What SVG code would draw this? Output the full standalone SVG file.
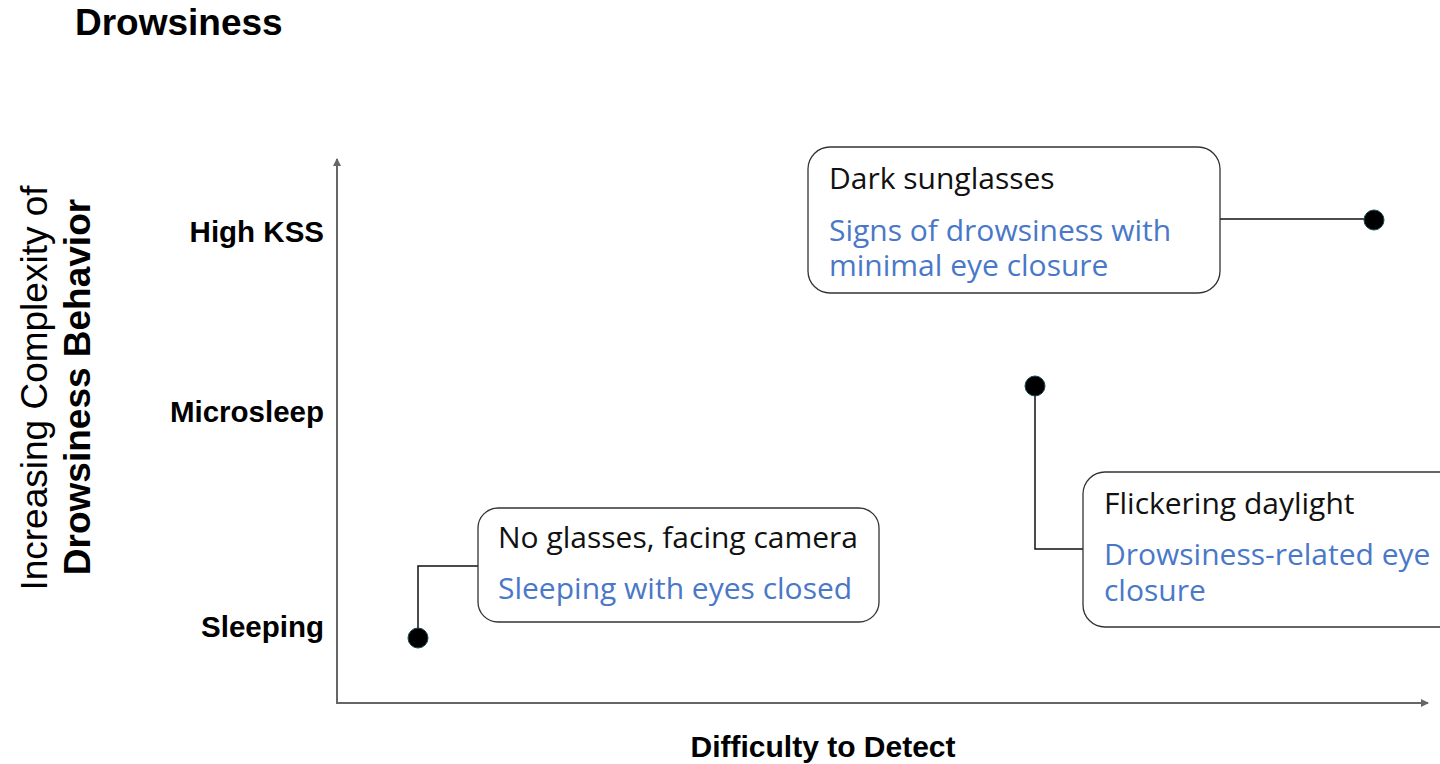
<svg xmlns="http://www.w3.org/2000/svg" width="1440" height="764" viewBox="0 0 1440 764">
  <style>
    .title { font-family: "Liberation Sans", Arial, sans-serif; font-weight: bold; font-size: 37px; fill: #000; }
    .tick { font-family: "Liberation Sans", Arial, sans-serif; font-weight: bold; font-size: 29.5px; fill: #000; text-anchor: end; }
    .axislbl { font-family: "Liberation Sans", Arial, sans-serif; font-size: 37px; fill: #000; text-anchor: middle; }
    .axisb { font-weight: bold; }
    .xlbl { font-family: "Liberation Sans", Arial, sans-serif; font-weight: bold; font-size: 30px; fill: #000; text-anchor: middle; }
    .box { fill: #fff; stroke: #333; stroke-width: 1.3; }
    .head { font-family: "Open Sans", sans-serif; font-size: 30px; fill: #111; }
    .desc { font-family: "Open Sans", sans-serif; font-size: 30px; fill: #4a78c8; }
    .axis { stroke: #666; stroke-width: 2; fill: none; }
    .link { stroke: #111; stroke-width: 1.5; fill: none; }
    .dot { fill: #000; stroke: #1a4a55; stroke-width: 1; }
  </style>
  <defs>
    <marker id="arrow" markerWidth="8" markerHeight="8" refX="7" refY="4" orient="auto" markerUnits="userSpaceOnUse">
      <path d="M0,0 L8,4 L0,8 Z" fill="#666"/>
    </marker>
  </defs>

  <text class="title" x="75" y="35">Drowsiness</text>

  <!-- axes and their labels -->
  <g id="axes">
    <line class="axis" x1="337" y1="703" x2="337" y2="159" marker-end="url(#arrow)"/>
    <line class="axis" x1="336" y1="703" x2="1428" y2="703" marker-end="url(#arrow)"/>
    <text class="tick" x="324" y="242">High KSS</text>
    <text class="tick" x="324" y="422">Microsleep</text>
    <text class="tick" x="324" y="637">Sleeping</text>
    <text class="xlbl" x="823" y="757">Difficulty to Detect</text>
    <text class="axislbl" transform="translate(47,388) rotate(-90)">Increasing Complexity of</text>
    <text class="axislbl axisb" transform="translate(90,387) rotate(-90)">Drowsiness Behavior</text>
  </g>

  <!-- connectors -->
  <g id="connectors">
    <polyline class="link" points="1220,219 1374,219"/>
    <polyline class="link" points="1035,386 1035,549 1083,549"/>
    <polyline class="link" points="478,566 418,566 418,638"/>
  </g>

  <g id="dot-high">
    <circle class="dot" cx="1374" cy="220" r="10"/>
  </g>
  <g id="dot-micro">
    <circle class="dot" cx="1035" cy="386" r="10"/>
  </g>
  <g id="dot-sleep">
    <circle class="dot" cx="418" cy="638" r="10"/>
  </g>

  <g id="node-sunglasses">
    <rect class="box" x="808" y="147" width="412" height="146" rx="22"/>
    <text class="head" x="829" y="189">Dark sunglasses</text>
    <text class="desc" x="829" y="241">Signs of drowsiness with</text>
    <text class="desc" x="829" y="276">minimal eye closure</text>
  </g>

  <g id="node-daylight">
    <rect class="box" x="1083" y="472" width="380" height="155" rx="22"/>
    <text class="head" x="1104" y="514">Flickering daylight</text>
    <text class="desc" x="1104" y="565">Drowsiness-related eye</text>
    <text class="desc" x="1104" y="601">closure</text>
  </g>

  <g id="node-noglasses">
    <rect class="box" x="478" y="508" width="401" height="114" rx="20"/>
    <text class="head" x="498" y="548">No glasses, facing camera</text>
    <text class="desc" x="498" y="599">Sleeping with eyes closed</text>
  </g>
</svg>
